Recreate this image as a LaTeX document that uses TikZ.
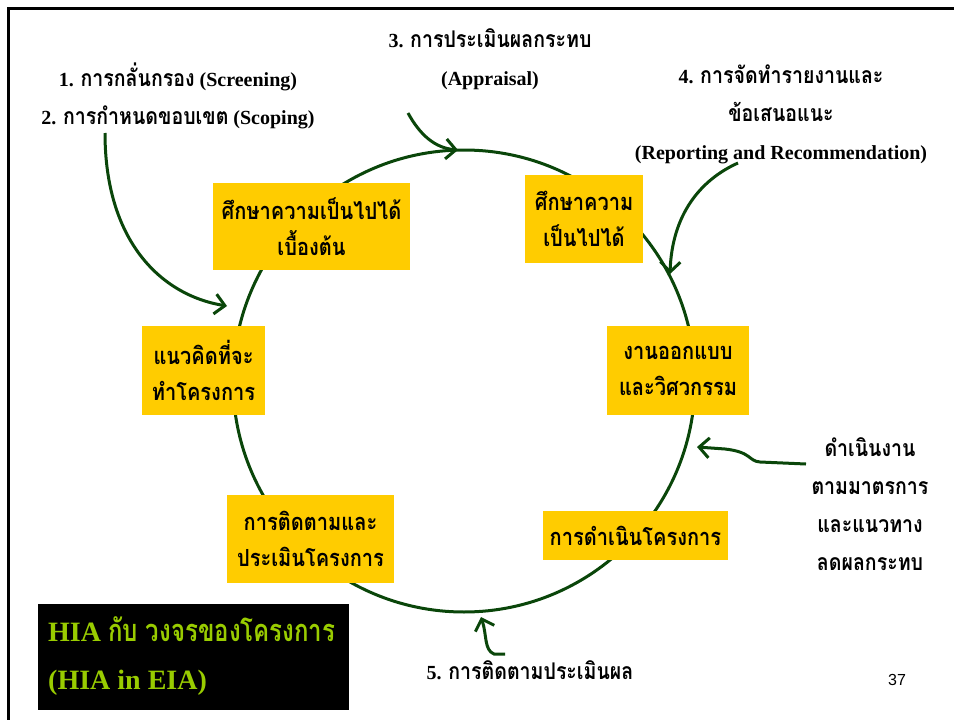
\documentclass[tikz,border=0pt]{standalone}
\usepackage{fontspec}
\setmainfont{Liberation Serif}
\setsansfont{Liberation Sans}
\newfontfamily\thai[Script=Thai, Scale=1.15, FakeStretch=0.85]{Loma}
\newfontfamily\thaititle[Script=Thai, Scale=1.1, FakeStretch=0.78]{Loma}
\usetikzlibrary{arrows.meta}
\definecolor{boxyellow}{RGB}{255,204,0}
\definecolor{arrowgreen}{RGB}{10,70,10}
\definecolor{titlegreen}{RGB}{153,204,0}
\tikzset{
  phase/.style={fill=boxyellow, inner sep=0pt, align=center, font=\thai\bfseries\fontsize{20.5}{36}\selectfont},
  lbl/.style={align=center, inner sep=0pt, font=\bfseries\fontsize{20}{38}\selectfont},
  flow/.style={draw=arrowgreen, line width=3pt, -{Straight Barb[length=10pt,width=20pt,line width=3pt]}},
}
\begin{document}
\begin{tikzpicture}[x=1pt,y=-1pt]
\useasboundingbox (0,0) rectangle (954,720);
% frame
\draw[line width=3pt] (8,720) -- (8,8) -- (956,8);
% cycle
\node[draw=arrowgreen, line width=3pt, circle, minimum size=462pt, inner sep=0pt] (cyc) at (464,381) {};
% phases
\node[phase, minimum width=197pt, minimum height=87pt] (p1) at (311.5,226.5) {ศึกษาความเป็นไปได้\\เบื้องต้น};
\node[phase, minimum width=118pt, minimum height=88pt] (p2) at (584,219) {ศึกษาความ\\เป็นไปได้};
\node[phase, minimum width=142pt, minimum height=89pt] (p3) at (678,370.5) {งานออกแบบ\\และวิศวกรรม};
\node[phase, minimum width=185pt, minimum height=49pt] (p4) at (635.5,535.5) {การดำเนินโครงการ};
\node[phase, minimum width=167pt, minimum height=88pt] (p5) at (310.5,539) {การติดตามและ\\ประเมินโครงการ};
\node[phase, minimum width=123pt, minimum height=89pt] (p6) at (203.5,370.5) {แนวคิดที่จะ\\ทำโครงการ};
% labels
\node[lbl] (l1) at (178,77) {1. {\thai การกลั่นกรอง} (Screening)};
\node[lbl] (l2) at (178,117) {2. {\thai การกำหนดขอบเขต} (Scoping)};
\node[lbl] (l3) at (490,59) {3. {\thai การประเมินผลกระทบ}\\(Appraisal)};
\node[lbl] (l4) at (781,114) {4. {\thai การจัดทำรายงานและ}\\{\thai ข้อเสนอแนะ}\\(Reporting and Recommendation)};
\node[lbl, font=\thai\bfseries\fontsize{20}{38}\selectfont] (l6) at (870,504.5) {ดำเนินงาน\\ตามมาตรการ\\และแนวทาง\\ลดผลกระทบ};
\node[lbl] (l5) at (530,670) {5. {\thai การติดตามประเมินผล}};
% title box
\node[fill=black, minimum width=311pt, minimum height=106pt, inner sep=0pt] (tb) at (193.5,657) {};
\node[anchor=west, align=left, text=titlegreen, inner sep=0pt, font=\bfseries\fontsize{28}{48}\selectfont] (tt) at (48,656) {HIA {\thaititle กับ วงจรของโครงการ}\\(HIA in EIA)};
\node[font=\sffamily\fontsize{16}{18}\selectfont, inner sep=0pt] (pg) at (897,680) {37};
% arrow end points
\coordinate (a1s) at (105,133);
\coordinate (a1e) at (227,306);
\coordinate (a3s) at (408,113);
\coordinate (a3e) at (458,150);
\coordinate (a4s) at (738,163);
\coordinate (a4e) at (670,274);
\coordinate (a6s) at (806,464);
\coordinate (a6e) at (697,447);
\coordinate (a5s) at (505,654);
\coordinate (a5e) at (481,617);
% arrows
\draw[flow] (a1s) .. controls (105,240) and (160,295) .. (a1e);
\draw[flow] (a3s) .. controls (420,135) and (435,148) .. (a3e);
\draw[flow] (a4s) .. controls (700,180) and (672,215) .. (a4e);
\draw[flow] (a6s) -- (760,462) .. controls (748,461) and (752,452) .. (725,449) -- (a6e);
\draw[flow] (a5s) -- (494,654) .. controls (484,650) and (487,635) .. (a5e);
\end{tikzpicture}
\end{document}
